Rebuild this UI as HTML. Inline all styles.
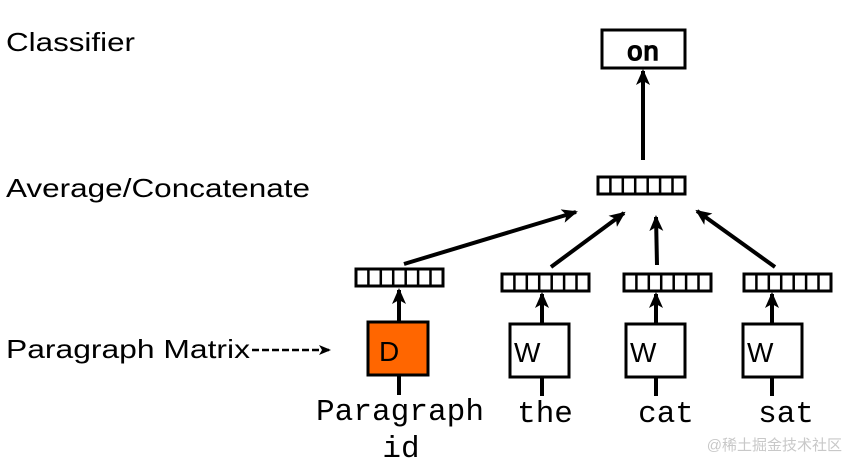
<!DOCTYPE html>
<html><head><meta charset="utf-8"><style>
html,body{margin:0;padding:0;background:#fff;width:850px;height:470px;overflow:hidden}
</style></head><body>
<svg width="850" height="470" viewBox="0 0 850 470" xmlns="http://www.w3.org/2000/svg">
<defs>
<marker id="ah" viewBox="0 0 16 14" refX="14" refY="7" markerWidth="16" markerHeight="14" orient="auto" markerUnits="userSpaceOnUse">
<path d="M0,0 L16,7 L0,14 L4,7 z" fill="#000"/>
</marker>
<marker id="ahs" viewBox="0 0 12 10" refX="11" refY="5" markerWidth="12" markerHeight="10" orient="auto" markerUnits="userSpaceOnUse">
<path d="M0,0 L12,5 L0,10 L3,5 z" fill="#000"/>
</marker>
<g id="vec">
<rect x="0" y="0" width="87" height="17" fill="#fff" stroke="#000" stroke-width="3"/>
<line x1="12.4" y1="0" x2="12.4" y2="17" stroke="#000" stroke-width="2.5"/>
<line x1="24.8" y1="0" x2="24.8" y2="17" stroke="#000" stroke-width="2.5"/>
<line x1="37.2" y1="0" x2="37.2" y2="17" stroke="#000" stroke-width="2.5"/>
<line x1="49.7" y1="0" x2="49.7" y2="17" stroke="#000" stroke-width="2.5"/>
<line x1="62.1" y1="0" x2="62.1" y2="17" stroke="#000" stroke-width="2.5"/>
<line x1="74.5" y1="0" x2="74.5" y2="17" stroke="#000" stroke-width="2.5"/>
</g>
</defs>
<g font-family="Liberation Sans, sans-serif" font-size="26" fill="#000">
<text x="6" y="51" textLength="129" lengthAdjust="spacingAndGlyphs">Classifier</text>
<text x="6" y="197" textLength="304" lengthAdjust="spacingAndGlyphs">Average/Concatenate</text>
<text x="6" y="358" textLength="244" lengthAdjust="spacingAndGlyphs">Paragraph Matrix</text>
</g>
<line x1="252" y1="350" x2="330" y2="350" stroke="#000" stroke-width="2.5" stroke-dasharray="7,3" marker-end="url(#ahs)"/>
<!-- on box -->
<rect x="602" y="30" width="83" height="38" fill="#fff" stroke="#000" stroke-width="3"/>
<text x="643" y="60" text-anchor="middle" font-family="Liberation Mono, monospace" font-size="27" fill="#000" stroke="#000" stroke-width="1.6">on</text>
<line x1="643" y1="160" x2="643" y2="71" stroke="#000" stroke-width="4" marker-end="url(#ah)"/>
<use href="#vec" x="598" y="177"/>
<use href="#vec" x="356" y="269"/>
<use href="#vec" x="502" y="274"/>
<use href="#vec" x="624" y="274"/>
<use href="#vec" x="744" y="274"/>
<line x1="404" y1="264" x2="576" y2="212" stroke="#000" stroke-width="4" marker-end="url(#ah)"/>
<line x1="551" y1="267" x2="624" y2="213" stroke="#000" stroke-width="4" marker-end="url(#ah)"/>
<line x1="657" y1="265" x2="656" y2="217" stroke="#000" stroke-width="4" marker-end="url(#ah)"/>
<line x1="775" y1="267" x2="697" y2="211" stroke="#000" stroke-width="4" marker-end="url(#ah)"/>
<g stroke="#000" stroke-width="4">
<line x1="399" y1="395" x2="399" y2="375"/>
<line x1="399" y1="322" x2="399" y2="290" marker-end="url(#ah)"/>
<line x1="542" y1="396" x2="542" y2="377"/>
<line x1="542" y1="323" x2="542" y2="294" marker-end="url(#ah)"/>
<line x1="656" y1="396" x2="656" y2="377"/>
<line x1="656" y1="323" x2="656" y2="294" marker-end="url(#ah)"/>
<line x1="772" y1="396" x2="772" y2="377"/>
<line x1="772" y1="323" x2="772" y2="294" marker-end="url(#ah)"/>
</g>
<rect x="368" y="322" width="60" height="53" fill="#ff6600" stroke="#000" stroke-width="3"/>
<rect x="510" y="324" width="59" height="53" fill="#fff" stroke="#000" stroke-width="3"/>
<rect x="626" y="324" width="59" height="53" fill="#fff" stroke="#000" stroke-width="3"/>
<rect x="743" y="324" width="59" height="53" fill="#fff" stroke="#000" stroke-width="3"/>
<g font-family="Liberation Sans, sans-serif" font-size="28" fill="#000">
<text x="379" y="361">D</text>
<text x="514" y="362">W</text>
<text x="630" y="362">W</text>
<text x="747" y="362">W</text>
</g>
<g font-family="Liberation Mono, monospace" font-size="31" fill="#000" text-anchor="middle">
<text x="400" y="420" textLength="168" lengthAdjust="spacingAndGlyphs">Paragraph</text>
<text x="401" y="457">id</text>
<text x="545" y="422">the</text>
<text x="666" y="422">cat</text>
<text x="786" y="422">sat</text>
</g>
<text x="842" y="450" text-anchor="end" font-family="Liberation Sans, 'Noto Sans CJK SC', sans-serif" font-size="15" fill="#c8c8c8">@稀土掘金技术社区</text>
</svg>
</body></html>
